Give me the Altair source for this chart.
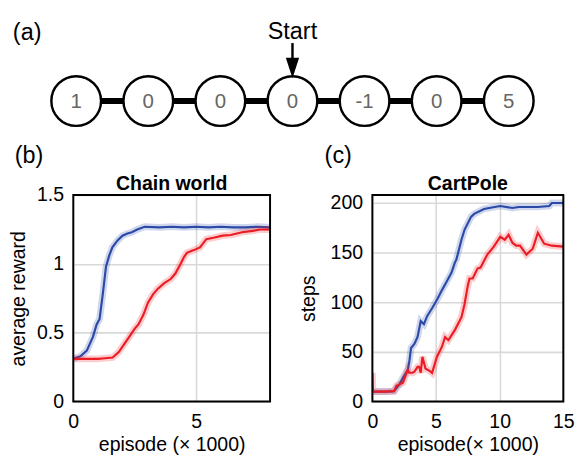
import altair as alt
import pandas as pd

# ---------------- data ----------------
chain_nodes = ["1", "0", "0", "0", "-1", "0", "5"]
start_index = 3
start_label = "Start"
panel_labels = ["(a)", "(b)", "(c)"]
panel_titles = ["Chain world", "CartPole"]

chain_blue_x = [0, 0.3, 0.55, 0.8, 0.95, 1.07, 1.2, 1.33, 1.46, 1.59, 1.8, 2.0, 2.2, 2.38, 2.6, 2.9,
                3.5, 4.0, 4.5, 5.0, 5.5, 6.0, 6.5, 7.0, 7.5, 8.0]
chain_blue_y = [0.31, 0.33, 0.37, 0.47, 0.56, 0.60, 0.78, 0.98, 1.06, 1.12, 1.17, 1.205, 1.22, 1.23, 1.25, 1.27,
                1.265, 1.27, 1.265, 1.27, 1.265, 1.27, 1.265, 1.265, 1.27, 1.265]
chain_red_x = [0, 0.5, 1.0, 1.3, 1.6, 1.85, 2.12, 2.35, 2.5, 2.65, 2.85, 3.04, 3.25, 3.44, 3.7, 3.96,
               4.15, 4.36, 4.5, 4.62, 4.9, 5.15, 5.41, 5.7, 6.07, 6.4, 6.86, 7.3, 7.6, 8.0]
chain_red_y = [0.31, 0.31, 0.31, 0.315, 0.32, 0.36, 0.43, 0.49, 0.53, 0.56, 0.63, 0.72, 0.78, 0.82, 0.86, 0.89,
               0.93, 1.0, 1.05, 1.08, 1.10, 1.12, 1.18, 1.19, 1.205, 1.21, 1.23, 1.24, 1.25, 1.25]

cart_blue_x = [0, 1.0, 1.7, 2.14, 2.4, 2.78, 2.9, 3.04, 3.3, 3.55, 3.8, 4.05, 4.3, 4.69, 5.1, 5.46, 5.97,
               6.22, 6.48, 6.6, 7.0, 7.24, 7.75, 8.0, 8.77, 9.6, 10.05, 11.0, 11.5, 12.2, 13.0, 13.9, 14.1, 15.0]
cart_blue_y = [10, 10, 10.5, 17.6, 24, 32, 40, 54, 58, 65, 81, 78, 86, 94, 103, 112, 124,
               130, 140, 143, 163, 173, 186, 189, 194, 196, 197, 195, 196, 196, 196, 197, 200, 200]
cart_red_x = [0, 0.05, 1.0, 1.7, 1.89, 2.4, 2.78, 2.9, 3.16, 3.3, 3.55, 3.67, 3.8, 3.93, 4.18, 4.5, 4.69,
              5.07, 5.46, 5.71, 5.97, 6.48, 7.0, 7.24, 7.5, 7.63, 7.88, 8.26, 8.5, 9.03, 9.54, 10.05,
              10.4, 10.7, 11.0, 11.3, 11.6, 12.1, 12.6, 13.0, 13.5, 14.1, 15.0]
cart_red_y = [29, 10, 10, 10.5, 16, 19, 32, 29, 29, 30, 35, 35, 29, 45, 33, 31, 29,
              45, 55, 65, 62, 72, 85, 98, 117, 124, 124, 134, 135, 148, 156, 166,
              163, 168, 160, 157, 157, 148, 154, 170, 159, 157, 156]

BLUE = "#2b4aa8"
RED = "#ec1c24"
FONT = "Liberation Sans"

# ---------------- (a) chain diagram ----------------
nodes_df = pd.DataFrame({"idx": list(range(len(chain_nodes))), "val": chain_nodes})
XDOM = [-0.0405, 6.446]
xs = alt.X("idx:Q", scale=alt.Scale(domain=XDOM, nice=False, zero=False), axis=None)
CY = 88.5

bar = alt.Chart(nodes_df).mark_rule(color="black", strokeWidth=6).encode(
    x=alt.X("min(idx):Q", scale=alt.Scale(domain=XDOM, nice=False, zero=False), axis=None),
    x2="max(idx):Q",
    y=alt.value(CY),
)
circles = alt.Chart(nodes_df).mark_point(
    shape="circle", size=2601, filled=True, fill="white", stroke="black", strokeWidth=2.5, opacity=1
).encode(x=xs, y=alt.value(CY))
vals = alt.Chart(nodes_df).mark_text(
    fontSize=21, color="#666666", baseline="middle", align="center", font=FONT
).encode(x=xs, y=alt.value(CY + 1), text="val:N")

start_df = pd.DataFrame({"idx": [start_index], "t": [start_label]})
start_txt = alt.Chart(start_df).mark_text(
    fontSize=24, color="black", baseline="alphabetic", align="center", font=FONT
).encode(x=xs, y=alt.value(25), text="t:N")
shaft = alt.Chart(start_df).mark_rule(color="black", strokeWidth=2.5).encode(
    x=xs, y=alt.value(29), y2=alt.value(50)
)
head = alt.Chart(start_df).mark_point(
    shape="M-0.65,-1L0.65,-1L0,1Z", size=441, filled=True, color="black", opacity=1
).encode(x=xs, y=alt.value(54.5))
a_lbl = alt.Chart(pd.DataFrame({"t": [panel_labels[0]]})).mark_text(
    fontSize=24, color="black", align="left", baseline="alphabetic", font=FONT
).encode(x=alt.value(-62), y=alt.value(26), text="t:N")

top = alt.layer(bar, circles, vals, start_txt, shaft, head, a_lbl).properties(width=480, height=120)


# ---------------- (b), (c) line panels ----------------
def panel(label, title, bx, by, rx, ry, xdom, ydom, xvals, yvals, xtitle, ytitle,
          w, h, lbl_x, ytitle_pad):
    X = alt.X("x:Q", scale=alt.Scale(domain=xdom, nice=False, zero=False),
              axis=alt.Axis(values=xvals, title=xtitle, grid=True, ticks=False, domain=False,
                            labelFlush=False, labelPadding=11, titlePadding=3,
                            labelExpr="'' + datum.value"))
    Y = alt.Y("y:Q", scale=alt.Scale(domain=ydom, nice=False, zero=False),
              axis=alt.Axis(values=yvals, title=ytitle, grid=True, ticks=False, domain=False,
                            labelFlush=False, labelPadding=10, titlePadding=ytitle_pad,
                            labelExpr="'' + datum.value"))
    dfb = pd.DataFrame({"x": bx, "y": by})
    dfr = pd.DataFrame({"x": rx, "y": ry})
    layers = []
    for df, col in ((dfb, BLUE), (dfr, RED)):
        layers.append(alt.Chart(df).mark_line(color=col, strokeWidth=7, opacity=0.22, clip=True)
                      .encode(x=X, y=Y))
        layers.append(alt.Chart(df).mark_line(color=col, strokeWidth=2.2, clip=True)
                      .encode(x=X, y=Y))
    one = pd.DataFrame({"t": [label], "title": [title]})
    frame = alt.Chart(one).mark_rect(fill="transparent", stroke="black", strokeWidth=2).encode(
        x=alt.value(0), x2=alt.value(w), y=alt.value(0), y2=alt.value(h))
    lbl = alt.Chart(one).mark_text(fontSize=24, align="left", baseline="alphabetic",
                                   color="black", font=FONT).encode(
        x=alt.value(lbl_x), y=alt.value(-33), text="t:N")
    ttl = alt.Chart(one).mark_text(fontSize=20, fontWeight="bold", align="center",
                                   baseline="alphabetic", color="black", font=FONT).encode(
        x=alt.value(w / 2), y=alt.value(-5), text="title:N")
    return alt.layer(*layers, frame, lbl, ttl).properties(width=w, height=h)


pb = panel(panel_labels[1], panel_titles[0], chain_blue_x, chain_blue_y, chain_red_x, chain_red_y,
           [0, 8], [0, 1.5], [0, 5], [0, 0.5, 1, 1.5], "episode (× 1000)", "average reward",
           202, 212, -60, 8)
pc = panel(panel_labels[2], panel_titles[1], cart_blue_x, cart_blue_y, cart_red_x, cart_red_y,
           [0, 15], [0, 208], [0, 5, 10, 15], [0, 50, 100, 150, 200], "episode(× 1000)", "steps",
           196, 212, -49, 12)

bottom = alt.hconcat(pb, pc, spacing=27)

chart = alt.vconcat(top, bottom, spacing=11).properties(padding=0).configure(
    font=FONT
).configure_view(stroke="transparent").configure_axis(
    labelFontSize=20, titleFontSize=20, titleFontWeight="normal", labelColor="black",
    titleColor="black", gridColor="#d9d9d9", gridWidth=1.6, labelFont=FONT, titleFont=FONT
)

chart.save("out.html", embed_options={"renderer": "svg", "actions": False})
